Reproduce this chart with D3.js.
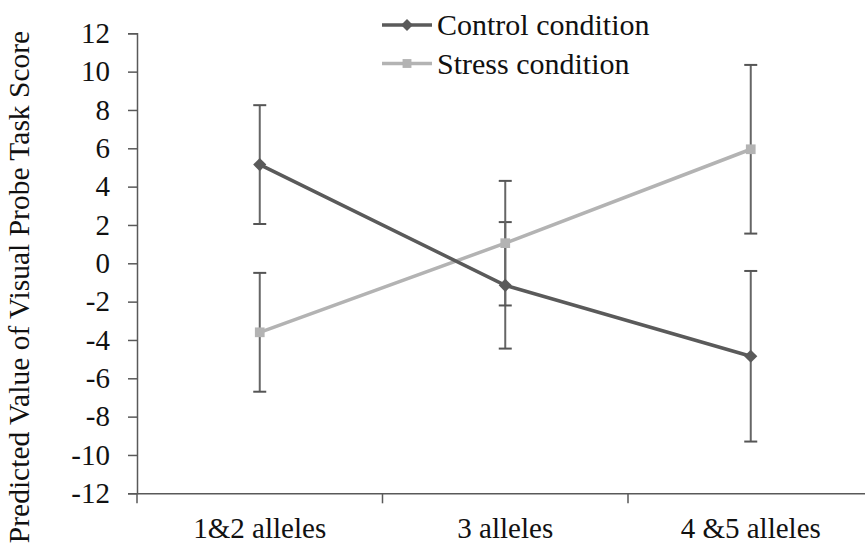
<!DOCTYPE html>
<html>
<head>
<meta charset="utf-8">
<script src="https://cdn.jsdelivr.net/npm/d3@7"></script>
<style>
  body { margin: 0; background: #fff; }
  text { font-family: "Liberation Serif", "Times New Roman", serif; fill: #111; }
</style>
</head>
<body>
<script>
// data
var categories = ["1&2 alleles", "3 alleles", "4 &5 alleles"];
var controlMean = [5.15, -1.15, -4.85];
var controlErr = [3.1, 3.3, 4.45];
var stressMean = [-3.6, 1.05, 5.95];
var stressErr = [3.1, 3.25, 4.4];
var yTicks = [-12, -10, -8, -6, -4, -2, 0, 2, 4, 6, 8, 10, 12];

var width = 865, height = 552;
var serif = '"Liberation Serif", "Times New Roman", serif';

var svg = d3.select("body").append("svg")
    .attr("width", width)
    .attr("height", height);

var x = d3.scaleBand()
    .domain(categories)
    .range([137, 873.5])
    .padding(0);

var y = d3.scaleLinear()
    .domain([-12, 12])
    .range([493.3, 33.3]);

var axisColor = "#595959";

//y axis
var yAxis = svg.append("g")
    .attr("transform", "translate(137,0)")
    .call(d3.axisLeft(y).tickValues(yTicks).tickSize(9).tickPadding(18)
        .tickFormat(function(d){ return d < 0 ? "-" + Math.abs(d) : d; }));
yAxis.attr("font-family", null);
yAxis.select(".domain").attr("stroke", axisColor).attr("stroke-width", 1.5);
yAxis.selectAll(".tick line").attr("stroke", axisColor).attr("stroke-width", 1.5);
yAxis.selectAll(".tick text")
    .style("font-family", serif)
    .style("font-size", "29px")
    .attr("fill", "#111");

//x axis with ticks at category boundaries
var xAxis = svg.append("g")
    .attr("transform", "translate(0," + y(-12) + ")")
    .call(d3.axisBottom(x).tickSize(0).tickPadding(24));
xAxis.attr("font-family", null);
xAxis.select(".domain").attr("stroke", axisColor).attr("stroke-width", 1.5);
xAxis.selectAll(".tick text")
    .style("font-family", serif)
    .style("font-size", "29px")
    .attr("fill", "#111");

var bounds = categories.map(function(c){ return x(c); }).concat([x.range()[1]]);
xAxis.selectAll(".bound")
    .data(bounds)
    .enter().append("line")
    .attr("class", "bound")
    .attr("x1", function(d){ return d; })
    .attr("x2", function(d){ return d; })
    .attr("y1", 0)
    .attr("y2", 10)
    .attr("stroke", axisColor)
    .attr("stroke-width", 1.5);

//y axis title
svg.append("text")
    .attr("transform", "translate(29,287) rotate(-90)")
    .attr("text-anchor", "middle")
    .style("font-family", serif)
    .style("font-size", "29.5px")
    .text("Predicted Value of Visual Probe Task Score");

var cx = function(i){ return x(categories[i]) + x.bandwidth() / 2; };

var series = [
    {name: "Control condition", mean: controlMean, err: controlErr, color: "#5a5a5a", shape: d3.symbolDiamond2},
    {name: "Stress condition", mean: stressMean, err: stressErr, color: "#b3b3b3", shape: d3.symbolSquare2}
];

//error bars
series.forEach(function(s){
    var eb = svg.append("g").attr("class", "errbars");
    s.mean.forEach(function(m, i){
        var lo = y(m - s.err[i]), hi = y(m + s.err[i]);
        eb.append("line")
            .attr("x1", cx(i)).attr("x2", cx(i))
            .attr("y1", lo).attr("y2", hi)
            .attr("stroke", "#666").attr("stroke-width", 2);
        [lo, hi].forEach(function(v){
            eb.append("line")
                .attr("x1", cx(i) - 6.5).attr("x2", cx(i) + 6.5)
                .attr("y1", v).attr("y2", v)
                .attr("stroke", "#555").attr("stroke-width", 2);
        });
    });
});

var line = d3.line()
    .x(function(d, i){ return cx(i); })
    .y(function(d){ return y(d); });

//lines with markers (stress drawn first, control on top)
[series[1], series[0]].forEach(function(s){
    svg.append("path")
        .datum(s.mean)
        .attr("d", line)
        .attr("fill", "none")
        .attr("stroke", s.color)
        .attr("stroke-width", 3.5);
    svg.selectAll(null)
        .data(s.mean)
        .enter().append("path")
        .attr("d", d3.symbol().type(s.shape).size(s.shape === d3.symbolSquare2 ? 120 : 110))
        .attr("transform", function(d, i){ return "translate(" + cx(i) + "," + y(d) + ")"; })
        .attr("fill", s.color)
        .attr("stroke", "none");
});

//legend
var legend = svg.append("g").attr("class", "legend");
series.forEach(function(s, i){
    var ly = 25 + i * 38.5;
    legend.append("line")
        .attr("x1", 382).attr("x2", 432)
        .attr("y1", ly).attr("y2", ly)
        .attr("stroke", s.color).attr("stroke-width", 3.5);
    legend.append("path")
        .attr("d", d3.symbol().type(s.shape).size(s.shape === d3.symbolSquare2 ? 100 : 90))
        .attr("transform", "translate(407," + ly + ")")
        .attr("fill", s.color);
    legend.append("text")
        .attr("x", 437)
        .attr("y", ly + 10)
        .style("font-family", serif)
        .style("font-size", "30px")
        .text(s.name);
});
</script>
</body>
</html>
